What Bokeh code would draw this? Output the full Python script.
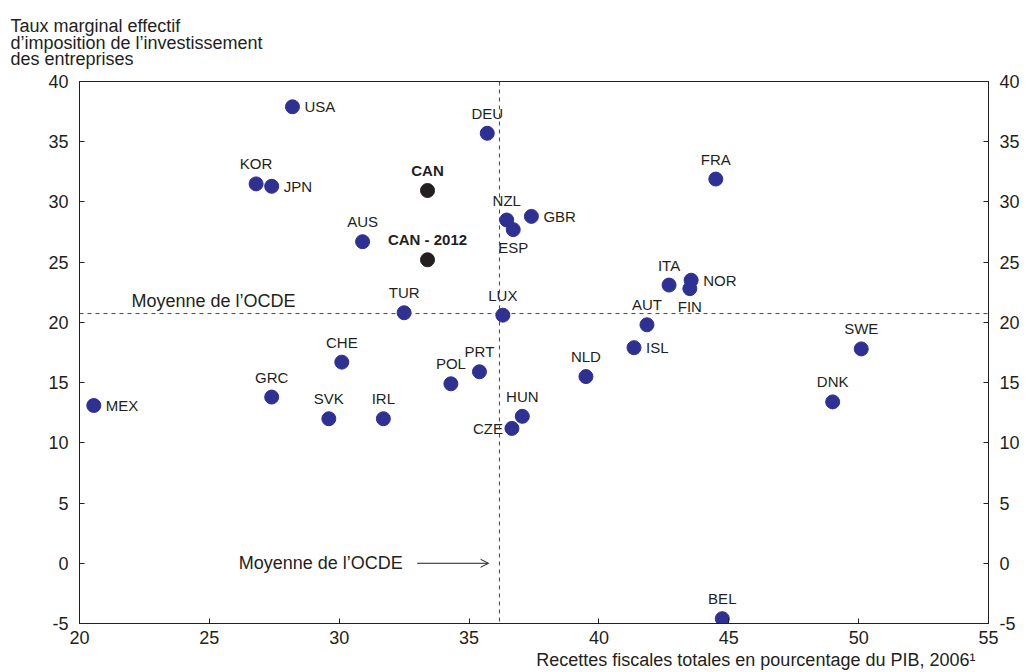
from bokeh.plotting import figure
from bokeh.models import (LinearAxis, Span, Label, Arrow, OpenHead, Title,
                          ColumnDataSource, FixedTicker, Range1d)
from bokeh.core.properties import value
from bokeh.embed import file_html
from bokeh.resources import INLINE

# ---------------- data ----------------
countries = ["MEX", "USA", "KOR", "JPN", "AUS", "DEU", "NZL", "GBR", "ESP",
             "FRA", "ITA", "NOR", "FIN", "AUT", "ISL", "TUR", "LUX", "CHE",
             "GRC", "SVK", "IRL", "POL", "PRT", "HUN", "CZE", "NLD", "SWE",
             "DNK", "BEL"]
tax_revenue = [20.55, 28.2, 26.8, 27.4, 30.9, 35.7, 36.45, 37.4, 36.7,
               44.5, 42.7, 43.55, 43.5, 41.85, 41.35, 32.5, 36.3, 30.1,
               27.4, 29.6, 31.7, 34.3, 35.4, 37.05, 36.65, 39.5, 50.1,
               49.0, 44.75]
metr = [13.1, 37.9, 31.5, 31.3, 26.7, 35.7, 28.5, 28.8, 27.7,
        31.9, 23.1, 23.5, 22.8, 19.8, 17.9, 20.8, 20.6, 16.7,
        13.8, 12.0, 12.0, 14.9, 15.9, 12.2, 11.2, 15.5, 17.8,
        13.4, -4.6]
label_side = ["right", "right", "above", "right", "above", "above", "above", "right", "below",
              "above", "above", "right", "below", "above", "right", "above", "above", "above",
              "above", "above", "above", "above", "above", "above", "left", "above", "above",
              "above", "above"]

can_names = ["CAN", "CAN - 2012"]
can_tax_revenue = [33.4, 33.4]
can_metr = [30.95, 25.2]

oecd_mean_tax = 36.17
oecd_mean_metr = 20.73

x_ticks = [20, 25, 30, 35, 40, 45, 50, 55]
y_ticks = [-5, 0, 5, 10, 15, 20, 25, 30, 35, 40]

y_title = ["Taux marginal effectif",
           "d\u2019imposition de l\u2019investissement",
           "des entreprises"]
x_title = "Recettes fiscales totales en pourcentage du PIB, 2006\u00b9"
mean_label = "Moyenne de l\u2019OCDE"

# ---------------- style ----------------
FONT = "Liberation Sans"
TXT = "#231f20"
BLUE = "#2e3192"

p = figure(width=1032, height=672, x_range=Range1d(20, 55), y_range=Range1d(-5, 40),
           output_backend="svg", toolbar_location=None,
           min_border_left=79, min_border_right=44, min_border_top=81, min_border_bottom=49,
           background_fill_color="white", border_fill_color="white")
p.grid.visible = False
p.outline_line_color = TXT
p.outline_line_width = 1

p.add_layout(LinearAxis(), "right")
for ax in p.axis:
    ax.ticker = FixedTicker(ticks=x_ticks if ax in p.xaxis else y_ticks)
    ax.minor_tick_line_color = None
    ax.major_tick_in = 5
    ax.major_tick_out = 0
    ax.axis_line_color = TXT
    ax.major_tick_line_color = TXT
    ax.major_label_text_font = FONT
    ax.major_label_text_font_size = "18px"
    ax.major_label_text_color = TXT
p.xaxis.major_label_standoff = 7
for ax in p.yaxis:
    ax.major_label_standoff = 11
    ax.major_label_overrides = {t: str(t) for t in y_ticks}

# axis titles
p.add_layout(Title(text=x_title, align="right", offset=13, standoff=2,
                   text_font=FONT, text_font_size="18px", text_font_style="normal",
                   text_color=TXT), "below")
p.add_layout(Title(text="\n".join(y_title), align="left", offset=-69, standoff=25,
                   text_font=FONT, text_font_size="18px", text_font_style="normal",
                   text_line_height=0.82, text_color=TXT), "above")

# mean lines
p.add_layout(Span(location=oecd_mean_tax, dimension="height", line_color="#444444",
                  line_dash="4 4", line_width=1))
p.add_layout(Span(location=oecd_mean_metr, dimension="width", line_color="#444444",
                  line_dash="4 4", line_width=1))

# points
p.scatter(tax_revenue, metr, size=14, color=BLUE)
p.scatter(can_tax_revenue, can_metr, size=14, color=TXT)

offsets = {
    "above": dict(x_offset=0, y_offset=-20, text_align="center", text_baseline="middle"),
    "below": dict(x_offset=0, y_offset=18, text_align="center", text_baseline="middle"),
    "right": dict(x_offset=12, y_offset=0, text_align="left", text_baseline="middle"),
    "left": dict(x_offset=-9, y_offset=0, text_align="right", text_baseline="middle"),
}
for side, opts in offsets.items():
    idx = [i for i, s in enumerate(label_side) if s == side]
    if not idx:
        continue
    src = ColumnDataSource(dict(x=[tax_revenue[i] for i in idx],
                                y=[metr[i] for i in idx],
                                t=[countries[i] for i in idx]))
    p.text("x", "y", text="t", source=src, text_font=value(FONT),
           text_font_size="15px", text_color=TXT, **opts)

p.text(can_tax_revenue, can_metr, text=can_names, text_font=value(FONT),
       text_font_size="15px", text_font_style="bold", text_color=TXT,
       y_offset=-20, text_align="center", text_baseline="middle")

# mean annotations
p.add_layout(Label(x=22.0, y=oecd_mean_metr, y_offset=3, text=mean_label,
                   text_font=FONT, text_font_size="18px", text_color=TXT,
                   text_baseline="bottom", text_align="left"))
p.add_layout(Label(x=32.45, y=0, text=mean_label, text_font=FONT, text_font_size="18px",
                   text_color=TXT, text_baseline="middle", text_align="right"))
p.add_layout(Arrow(x_start=33.0, y_start=0, x_end=35.75, y_end=0, line_color=TXT,
                   line_width=1, end=OpenHead(size=8, line_color=TXT, line_width=1)))

open("out.html", "w").write(file_html(p, INLINE))
